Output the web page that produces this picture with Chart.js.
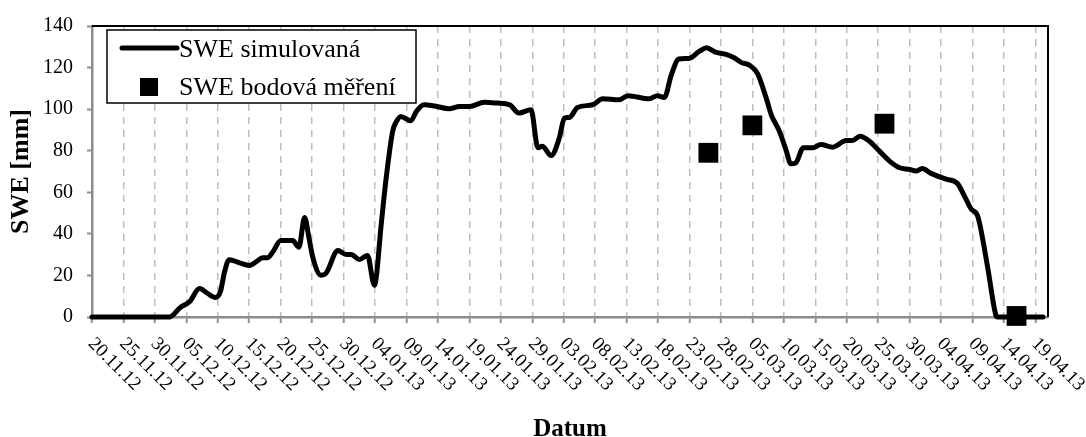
<!DOCTYPE html>
<html>
<head>
<meta charset="utf-8">
<script src="https://cdn.jsdelivr.net/npm/chart.js@4"></script>
<style>
  body { margin: 0; background: #fff; }
  canvas { display: block; }
</style>
</head>
<body>
<canvas id="swe-chart" width="1086" height="437"></canvas>
<script>
// days counted from 20.11.2012
const xTickLabels = ['20.11.12', '25.11.12', '30.11.12', '05.12.12', '10.12.12', '15.12.12', '20.12.12',
    '25.12.12', '30.12.12', '04.01.13', '09.01.13', '14.01.13', '19.01.13', '24.01.13', '29.01.13',
    '03.02.13', '08.02.13', '13.02.13', '18.02.13', '23.02.13', '28.02.13', '05.03.13', '10.03.13',
    '15.03.13', '20.03.13', '25.03.13', '30.03.13', '04.04.13', '09.04.13', '14.04.13', '19.04.13'];

const simDays = [0, 12.3, 14, 15.5, 17.1, 18.3, 19.6, 20.4, 21.1, 21.8, 23.5, 25, 26.2, 27.1, 27.9, 28.8,
    30, 31.9, 32.9, 33.8, 34.5, 35.1, 36.4, 37.2, 39.1, 40.4, 41.2, 42.5, 43.8, 44.9, 46, 46.7, 47.8,
    48.4, 49.1, 50.7, 51.6, 52.8, 54.5, 56.8, 58.4, 60, 62.4, 64.5, 66.4, 67.9, 69.8, 70.9, 71.6, 73,
    74.3, 75.1, 75.9, 77.2, 79.6, 81.2, 83.8, 85.2, 88.6, 89.9, 91, 92.1, 93.3, 94.9, 96.6, 97.7, 99,
    100.8, 102.1, 103.2, 104.5, 105.8, 107.2, 108, 109.3, 110.4, 111.1, 111.9, 113.1, 114.6, 115.9,
    117.8, 119.9, 120.9, 122.1, 123.6, 125.2, 126.8, 128.4, 130, 131, 132, 133.4, 135.8, 137.6, 138.7,
    139.8, 140.8, 142.4, 143.7, 144, 151.2];
const simSwe = [0, 0, 4.5, 7.3, 13.7, 11.5, 9.4, 12, 22, 27.6, 26, 24.8, 26.8, 28.5, 28.5, 31.5,
    36.8, 36.8, 33.6, 47.9, 38, 28.8, 20.1, 21, 32, 30.1, 30.1, 27.7, 29.6, 15.3, 45, 65, 89.3,
    94, 96.5, 94.4, 99, 102.1, 101.5, 100.2, 101.3, 101.3, 103.3, 102.9, 102.1, 98.1, 99.7, 81.4, 82.2, 77.7,
    86.1, 95.7, 96, 100.8, 102.1, 105, 104.5, 106.5, 105, 106.5, 105.6, 116.4, 124.1, 124.4, 127.9, 129.5, 127.6,
    126.3, 124.7, 122.5, 121.2, 117.2, 105.3, 97.3, 89.3, 79.8, 73.7, 74.2, 81.4, 81.4, 83,
    81.7, 84.9, 84.9, 87, 84.6, 79.8, 75, 71.8, 71, 70.2, 71.4, 69.1, 66.3, 64.2, 58.3,
    51.9, 48.7, 24, 1, 0, 0];

const measDays = [98, 105, 126, 147];
const measSwe = [79, 92.2, 93, 0.5];

const serif = 'Liberation Serif, Times New Roman, serif';

const extrasPlugin = {
    id: 'extras',
    afterDraw(chart) {
        const ctx = chart.ctx;
        const area = chart.chartArea;
        const xScale = chart.scales.x;

        // top + right frame
        ctx.save();
        ctx.strokeStyle = '#000';
        ctx.lineWidth = 2;
        ctx.beginPath();
        ctx.moveTo(area.left, area.top);
        ctx.lineTo(area.right, area.top);
        ctx.lineTo(area.right, area.bottom);
        ctx.stroke();
        ctx.restore();

        // rotated date labels
        ctx.save();
        ctx.fillStyle = '#000';
        ctx.font = '19px ' + serif;
        ctx.textAlign = 'left';
        ctx.textBaseline = 'middle';
        xScale.ticks.forEach((tick, i) => {
            const label = xTickLabels[i];
            if (!label) return;
            const px = xScale.getPixelForValue(tick.value);
            ctx.save();
            ctx.translate(px - 1, area.bottom + 24);
            ctx.rotate(Math.PI / 4);
            ctx.fillText(label, 0, 0);
            ctx.restore();
        });
        ctx.restore();

        // legend box
        const lineSet = chart.data.datasets[0];
        const pointSet = chart.data.datasets[1];
        ctx.save();
        ctx.fillStyle = '#fff';
        ctx.fillRect(107, 30, 309, 73);
        ctx.strokeStyle = '#000';
        ctx.lineWidth = 1.5;
        ctx.strokeRect(107, 30, 309, 73);

        ctx.strokeStyle = '#000';
        ctx.lineWidth = 5;
        ctx.lineCap = 'round';
        ctx.beginPath();
        ctx.moveTo(122, 48);
        ctx.lineTo(177, 48);
        ctx.stroke();

        ctx.fillStyle = '#000';
        ctx.fillRect(140, 78, 18, 18);

        ctx.font = '26px ' + serif;
        ctx.textAlign = 'left';
        ctx.textBaseline = 'alphabetic';
        ctx.fillText(lineSet.label, 179, 57);
        ctx.fillText(pointSet.label, 179, 95);
        ctx.restore();
    }
};

const canvas = document.getElementById('swe-chart');

new Chart(canvas, {
    type: 'scatter',
    data: {
        datasets: [{
            type: 'line',
            label: 'SWE simulovaná',
            data: simDays.map((d, i) => ({ x: d, y: simSwe[i] })),
            borderColor: '#000',
            borderWidth: 5,
            pointRadius: 0,
            cubicInterpolationMode: 'monotone',
            borderCapStyle: 'round',
            borderJoinStyle: 'round',
            clip: false
        }, {
            label: 'SWE bodová měření',
            data: measDays.map((d, i) => ({ x: d, y: measSwe[i] })),
            pointStyle: 'rect',
            pointRadius: 14,
            backgroundColor: '#000',
            borderWidth: 0,
            clip: false
        }]
    },
    options: {
        responsive: false,
        animation: false,
        layout: { padding: { top: 24, right: 38, left: 0, bottom: 0 } },
        plugins: {
            legend: { display: false },
            tooltip: { enabled: false }
        },
        scales: {
            x: {
                type: 'linear',
                min: 0,
                max: 152,
                ticks: { stepSize: 5, includeBounds: false, display: false },
                grid: {
                    color: '#bdbdbd',
                    lineWidth: 1.5,
                    drawTicks: true,
                    tickLength: 6,
                    tickColor: '#8c8c8c',
                    tickWidth: 2
                },
                border: { color: '#8c8c8c', width: 2.5, dash: [7, 6] },
                title: {
                    display: true,
                    text: 'Datum',
                    color: '#000',
                    padding: 0,
                    font: { family: serif, size: 25, weight: 'bold', lineHeight: 0.6 }
                },
                afterFit: (scale) => { scale.height = 120; }
            },
            y: {
                min: 0,
                max: 140,
                ticks: {
                    stepSize: 20,
                    color: '#000',
                    padding: 14,
                    font: { family: serif, size: 20 }
                },
                grid: {
                    drawOnChartArea: false,
                    tickLength: 5,
                    tickColor: '#8c8c8c',
                    tickWidth: 2
                },
                border: { color: '#8c8c8c', width: 2.5 },
                title: {
                    display: true,
                    text: 'SWE [mm]',
                    color: '#000',
                    padding: 0,
                    font: { family: serif, size: 26, weight: 'bold', lineHeight: 1.6 }
                },
                afterFit: (scale) => { scale.width = 92; }
            }
        }
    },
    plugins: [extrasPlugin]
});
</script>
</body>
</html>
